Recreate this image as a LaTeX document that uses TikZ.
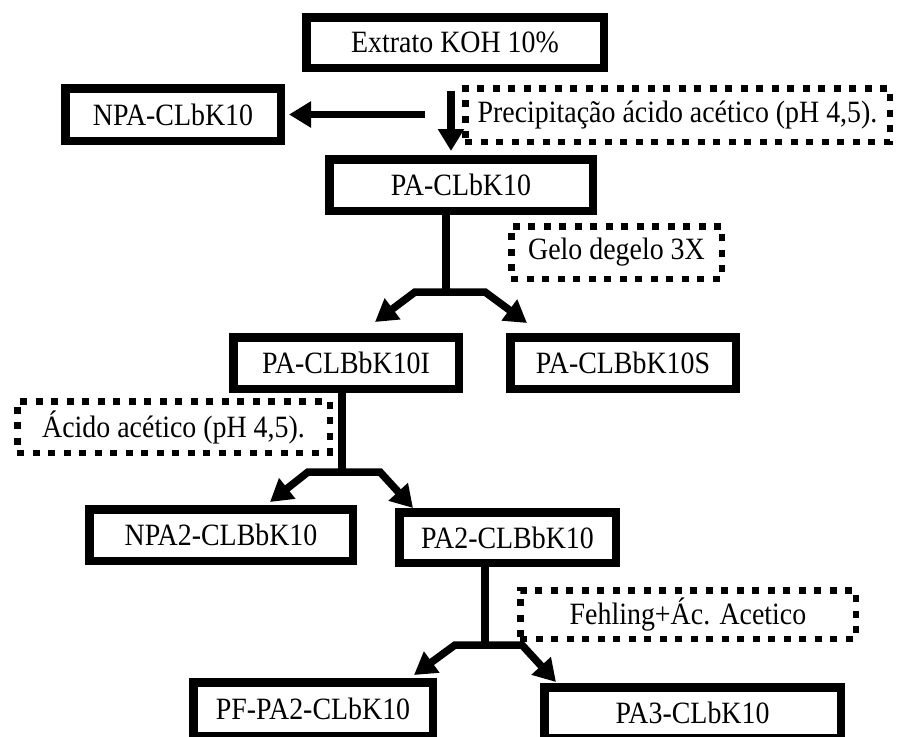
\documentclass[tikz,border=0pt]{standalone}
\usepackage{fontspec}
\setmainfont{Liberation Serif}
\newfontfamily\labelfont{Liberation Serif}[FakeStretch=0.9]
\usetikzlibrary{arrows.meta}
\begin{document}
\begin{tikzpicture}[x=1pt,y=-1pt,
  every node/.style={font=\labelfont\fontsize{31}{34}\selectfont, inner sep=0pt, align=center},
  solidbox/.style={draw=black, line width=8.5pt, fill=white},
  dotbox/.style={draw=black, line width=6.5pt, dash pattern=on 7pt off 8.5pt},
  conn/.style={line width=7.5pt},
  arr/.style={line width=7.5pt, -{Triangle[length=22pt,width=25pt]}},
  fork/.style={line width=7.5pt, {Triangle[length=22pt,width=25pt]}-{Triangle[length=22pt,width=25pt]}}
]
\useasboundingbox (0,0) rectangle (899,736);

% process boxes
\node[solidbox, minimum width=297.5pt, minimum height=50.5pt] (ext)  at (455,42.5)  {Extrato KOH 10\%};
\node[solidbox, minimum width=215.5pt, minimum height=52.5pt] (npa)  at (173,114.5) {NPA-CLbK10};
\node[solidbox, minimum width=263.5pt, minimum height=51.5pt] (pa)   at (461,185)   {PA-CLbK10};
\node[solidbox, minimum width=225.5pt, minimum height=51.5pt] (pai)  at (346,363)   {PA-CLBbK10I};
\node[solidbox, minimum width=225.5pt, minimum height=51.5pt] (pas)  at (623,363)   {PA-CLBbK10S};
\node[solidbox, minimum width=263.5pt, minimum height=51.5pt] (npa2) at (221,535)   {NPA2-CLBbK10};
\node[solidbox, minimum width=216.5pt, minimum height=50.5pt] (pa2)  at (507.5,537.5) {PA2-CLBbK10};
\node[solidbox, minimum width=239.5pt, minimum height=53.5pt] (pf)   at (313,709)   {PF-PA2-CLbK10};
\node[solidbox, minimum width=296.5pt, minimum height=50.5pt] (pa3)  at (692.5,712.5) {PA3-CLbK10};

% treatment notes
\node[dotbox, minimum width=424.5pt, minimum height=53.5pt] (prec) at (677.5,115) {Precipitação ácido acético (pH 4,5).};
\node[dotbox, minimum width=210.5pt, minimum height=52.5pt] (gelo) at (616.5,252.5) {Gelo degelo 3X};
\node[dotbox, minimum width=312.5pt, minimum height=51.5pt] (acid) at (173.5,427) {Ácido acético (pH 4,5).};
\node[dotbox, minimum width=335.5pt, minimum height=48.5pt] (fehl) at (688,614.5) {Fehling+Ác. Acetico};

% first step: non-precipitated fraction to the left, precipitate below
\coordinate (h0) at (425,114.5);
\coordinate (v0) at (451,91);
\draw[arr, shorten >=4pt] (h0) -- (npa.east);
\draw[arr, shorten >=4pt] (v0) -- (v0 |- pa.north);

% fork below PA-CLbK10
\coordinate (j1) at (446,292);
\coordinate (b1l) at (415,292);
\coordinate (b1r) at (485,292);
\coordinate (t1l) at (375,322);
\coordinate (t1r) at (527,323);
\draw[conn] (pa.south -| j1) -- (j1);
\draw[fork] (t1l) -- (b1l) -- (b1r) -- (t1r);

% fork below PA-CLBbK10I
\coordinate (j2) at (342,472);
\coordinate (b2l) at (308,472);
\coordinate (b2r) at (380,472);
\coordinate (t2l) at (270,502);
\coordinate (t2r) at (413,508);
\draw[conn] (pai.south -| j2) -- (j2);
\draw[fork] (t2l) -- (b2l) -- (b2r) -- (t2r);

% fork below PA2-CLBbK10
\coordinate (j3) at (485,645);
\coordinate (b3l) at (455,645);
\coordinate (b3r) at (522,645);
\coordinate (t3l) at (414,675);
\coordinate (t3r) at (556,682);
\draw[conn] (pa2.south -| j3) -- (j3);
\draw[fork] (t3l) -- (b3l) -- (b3r) -- (t3r);
\end{tikzpicture}
\end{document}
